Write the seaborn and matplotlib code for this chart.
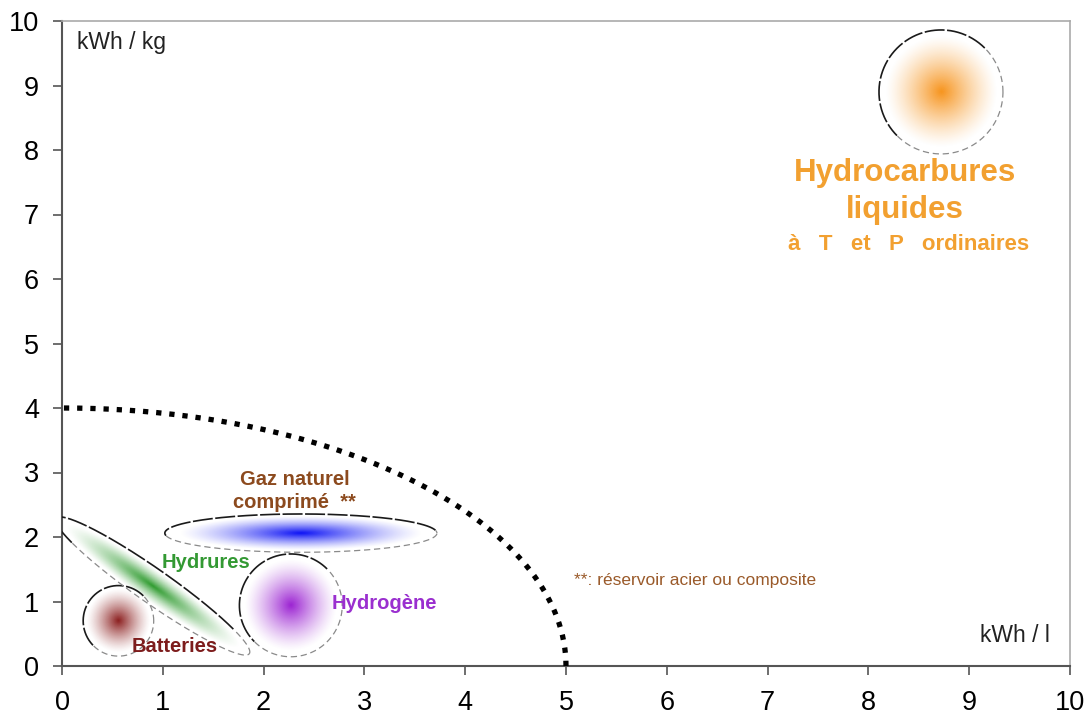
import numpy as np
import matplotlib
matplotlib.use('Agg')
import matplotlib.pyplot as plt
from matplotlib.colors import to_rgb
import seaborn as sns

# storage zones: centre and spread (x: kWh/l, y: kWh/kg)
zone_names = ['Batteries', 'Hydrures', 'Gaz naturel comprimé', 'Hydrogène', 'Hydrocarbures liquides']
zone_vol = [0.56, 0.90, 2.37, 2.27, 8.72]
zone_mass = [0.70, 1.24, 2.06, 0.94, 8.90]
zone_half_major = [0.35, 1.17, 1.35, 0.51, 0.615]
zone_half_minor = [0.35, 0.17, 0.19, 0.51, 0.615]
zone_tilt = [0, -35, 0, 0, 0]
zone_colors = ['#8b1e1e', '#2e9b2e', '#0a10f5', '#9b22d2', '#f7941d']

# limit of the reachable zone (quarter ellipse)
frontier_vol = 5.0
frontier_mass = 4.0

ticks = list(range(0, 11))


def main():
    sns.set_theme(style='white')
    plt.rcParams['font.family'] = ['Liberation Sans', 'DejaVu Sans']

    fig = plt.figure(figsize=(10.92, 7.22), dpi=100)
    ax = fig.add_axes([62 / 1092, 56 / 722, 1008 / 1092, 645 / 722])
    # ratio between one y unit and one x unit on screen
    r = (645 / 10) / (1008 / 10)

    for cx, cy, a, b, ang, col in zip(zone_vol, zone_mass, zone_half_major,
                                      zone_half_minor, zone_tilt, zone_colors):
        phi = np.radians(ang)
        ext = max(a, b) * 1.05
        xs = np.linspace(cx - ext, cx + ext, 400)
        ys = np.linspace(cy * r - ext, cy * r + ext, 400)
        X, Y = np.meshgrid(xs, ys)
        dx, dy = X - cx, Y - cy * r
        u = dx * np.cos(phi) + dy * np.sin(phi)
        v = -dx * np.sin(phi) + dy * np.cos(phi)
        d = np.sqrt((u / a) ** 2 + (v / b) ** 2)
        img = np.ones(X.shape + (4,))
        img[..., :3] = to_rgb(col)
        img[..., 3] = np.clip(1 - d / 0.9, 0, 1) ** 1.3
        ax.imshow(img, extent=[cx - ext, cx + ext, (cy * r - ext) / r, (cy * r + ext) / r],
                  origin='lower', aspect='auto', interpolation='bilinear', zorder=2)

        # outline, darker on the upper-left side
        t = np.linspace(0, 2 * np.pi, 600)
        px = a * np.cos(t) * np.cos(phi) - b * np.sin(t) * np.sin(phi)
        py = a * np.cos(t) * np.sin(phi) + b * np.sin(t) * np.cos(phi)
        nx = np.cos(t) / a * np.cos(phi) - np.sin(t) / b * np.sin(phi)
        ny = np.cos(t) / a * np.sin(phi) + np.sin(t) / b * np.cos(phi)
        dark = (-nx + ny) > 0
        ox = cx + px
        oy = (cy * r + py) / r
        ax.plot(ox, np.where(dark, oy, np.nan), color='#1a1a1a', lw=1.2,
                linestyle=(0, (12, 1.5)), zorder=3)
        ax.plot(ox, np.where(dark, np.nan, oy), color='#8a8a8a', lw=0.9,
                linestyle=(0, (5, 3)), zorder=3)

    theta = np.linspace(0, np.pi / 2, 200)
    sns.lineplot(x=frontier_vol * np.cos(theta), y=frontier_mass * np.sin(theta),
                 sort=False, color='black', lw=3.8, linestyle=(0, (1, 1.5)),
                 ax=ax, zorder=4, clip_on=False)

    bold = dict(fontweight='bold', ha='center', va='center', zorder=5)
    ax.text(1.12, 0.30, 'Batteries', color='#7d1c1c', fontsize=14.5, **bold)
    ax.text(1.43, 1.60, 'Hydrures', color='#339933', fontsize=14.5, **bold)
    ax.text(3.20, 0.97, 'Hydrogène', color='#9a2fcf', fontsize=14.5, **bold)
    ax.text(2.31, 2.71, 'Gaz naturel\ncomprimé  **', color='#8c4a1e', fontsize=14.5,
            linespacing=1.25, **bold)
    ax.text(8.36, 7.64, 'Hydrocarbures', color='#f2a030', fontsize=22.5, **bold)
    ax.text(8.36, 7.07, 'liquides', color='#f2a030', fontsize=22.5, **bold)
    ax.text(8.40, 6.53, 'à   T   et   P   ordinaires', color='#f2a030', fontsize=16, **bold)

    ax.text(5.08, 1.33, '**: réservoir acier ou composite', color='#9a5a2a',
            fontsize=12.5, va='center', ha='left')
    ax.text(0.15, 9.67, 'kWh / kg', fontsize=16.5, color='#222222', va='center', ha='left')
    ax.text(9.80, 0.48, 'kWh / l', fontsize=16.5, color='#222222', va='center', ha='right')

    ax.set_xlim(0, 10)
    ax.set_ylim(0, 10)
    ax.set_xticks(ticks)
    ax.set_yticks(ticks)
    ax.set_xlabel('')
    ax.set_ylabel('')
    ax.grid(False)

    for side in ['left', 'bottom']:
        ax.spines[side].set_color('#555555')
        ax.spines[side].set_linewidth(1.5)
    for side in ['top', 'right']:
        ax.spines[side].set_color('#aaaaaa')
        ax.spines[side].set_linewidth(1.2)
    ax.tick_params(bottom=True, left=True, direction='out', length=6.5, width=1.2,
                   color='#555555', labelsize=19.5, labelcolor='black')
    ax.tick_params(axis='x', pad=10.5)
    ax.tick_params(axis='y', pad=10)

    fig.savefig('out.png', dpi=100, facecolor='white')


if __name__ == "__main__":
    main()
